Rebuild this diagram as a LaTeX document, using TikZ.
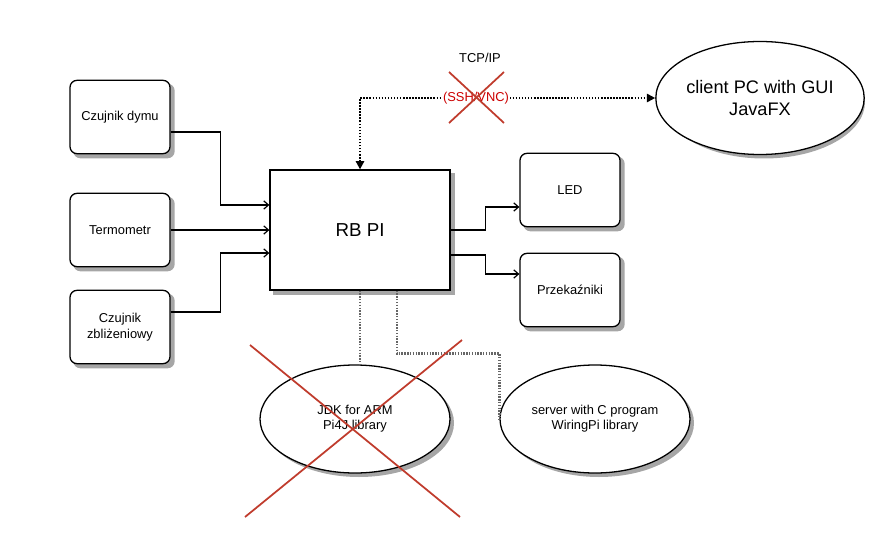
\documentclass[tikz,border=0pt]{standalone}
\usepackage{fontspec}
\setmainfont{Liberation Sans}
\usetikzlibrary{arrows.meta, shapes.geometric, backgrounds}
\definecolor{crossred}{RGB}{192,60,45}
\definecolor{labelred}{RGB}{204,0,0}
\begin{document}
\begin{tikzpicture}[x=0.03cm, y=-0.03cm,
	shadowfill/.style={fill=gray!70},
	box/.style={draw, line width=1.1pt, rounded corners=6pt, fill=white, minimum width=3cm, minimum height=2.2cm, align=center, font=\fontsize{11}{13.5}\selectfont},
	oval/.style={draw, line width=1.1pt, ellipse, fill=white, inner sep=0pt, align=center, font=\fontsize{11}{13}\selectfont},
	arr/.style={line width=1pt, -{Straight Barb[length=4pt, width=7pt]}},
	link/.style={line width=2pt, dash pattern=on 1.2pt off 1.2pt, gray!80!black},
	cross/.style={line width=1.5pt, crossred}]
	\useasboundingbox (0,0) rectangle (880,541);
	\node[box] (dymu) at (120,117) {Czujnik dymu};
	\node[box] (termo) at (120,230) {Termometr};
	\node[box] (zbl) at (120,327) {Czujnik\\zbliżeniowy};
	\node[draw, line width=1.1pt, fill=white, minimum width=5.4cm, minimum height=3.6cm, font=\fontsize{16}{19}\selectfont] (rbpi) at (360,230) {RB PI};
	\node[box] (led) at (570,190) {LED};
	\node[box] (przek) at (570,290) {Przekaźniki};
	\node[oval, minimum width=6.06cm, minimum height=3.39cm, font=\fontsize{15.5}{18}\selectfont] (client) at (760,98) {client PC with GUI\\JavaFX};
	\node[oval, minimum width=5.7cm, minimum height=3.24cm] (jdk) at (355,419) {JDK for ARM\\Pi4J library};
	\node[oval, minimum width=5.7cm, minimum height=3.24cm] (server) at (595,419) {server with C program\\WiringPi library};
	% shadows
	\begin{pgfonlayer}{background}
		\foreach \n in {dymu,termo,zbl,led,przek}
			\fill[shadowfill, rounded corners=6pt] ([shift={(4,4)}]\n.south west) rectangle ([shift={(4,4)}]\n.north east);
		\fill[shadowfill] ([shift={(4,4)}]rbpi.south west) rectangle ([shift={(4,4)}]rbpi.north east);
		\fill[shadowfill] ([shift={(4,4)}]client.center) ellipse [x radius=101, y radius=56.5];
		\foreach \n in {jdk,server}
			\fill[shadowfill] ([shift={(4,4)}]\n.center) ellipse [x radius=95, y radius=54];
	\end{pgfonlayer}
	% inputs
	\draw[arr] ([yshift=-0.45cm]dymu.east) -- ++(50,0) |- ([yshift=0.75cm]rbpi.west);
	\draw[arr] (termo.east) -- (rbpi.west);
	\draw[arr] ([yshift=0.45cm]zbl.east) -- ++(50,0) |- ([yshift=-0.69cm]rbpi.west);
	% outputs
	\draw[arr] (rbpi.east) -- ++(35,0) |- ([yshift=-0.51cm]led.west);
	\draw[arr] ([yshift=-0.75cm]rbpi.east) -- ++(35,0) |- ([yshift=0.48cm]przek.west);
	% network
	\draw[line width=1.6pt, dash pattern=on 1.3pt off 1.3pt, {Triangle[length=7pt, width=7pt]}-{Triangle[length=7pt, width=7pt]}] (rbpi.north) |- (client.west);
	\node[fill=white, inner sep=1pt, text=labelred, font=\fontsize{11}{13}\selectfont] (ssh) at (476,98) {(SSH/VNC)};
	\node[font=\fontsize{11}{13}\selectfont] (tcp) at (480,58) {TCP/IP};
	\draw[cross] (449,72) -- (504,123);
	\draw[cross] (504,72) -- (449,123);
	% libraries
	\draw[link] (rbpi.south) -- (rbpi.south |- jdk.north);
	\draw[link] ([xshift=1.11cm]rbpi.south) -- ++(0,63) -| (server.west);
	\draw[cross] (250,345) -- (460,517);
	\draw[cross] (462,340) -- (245,517);
\end{tikzpicture}
\end{document}
